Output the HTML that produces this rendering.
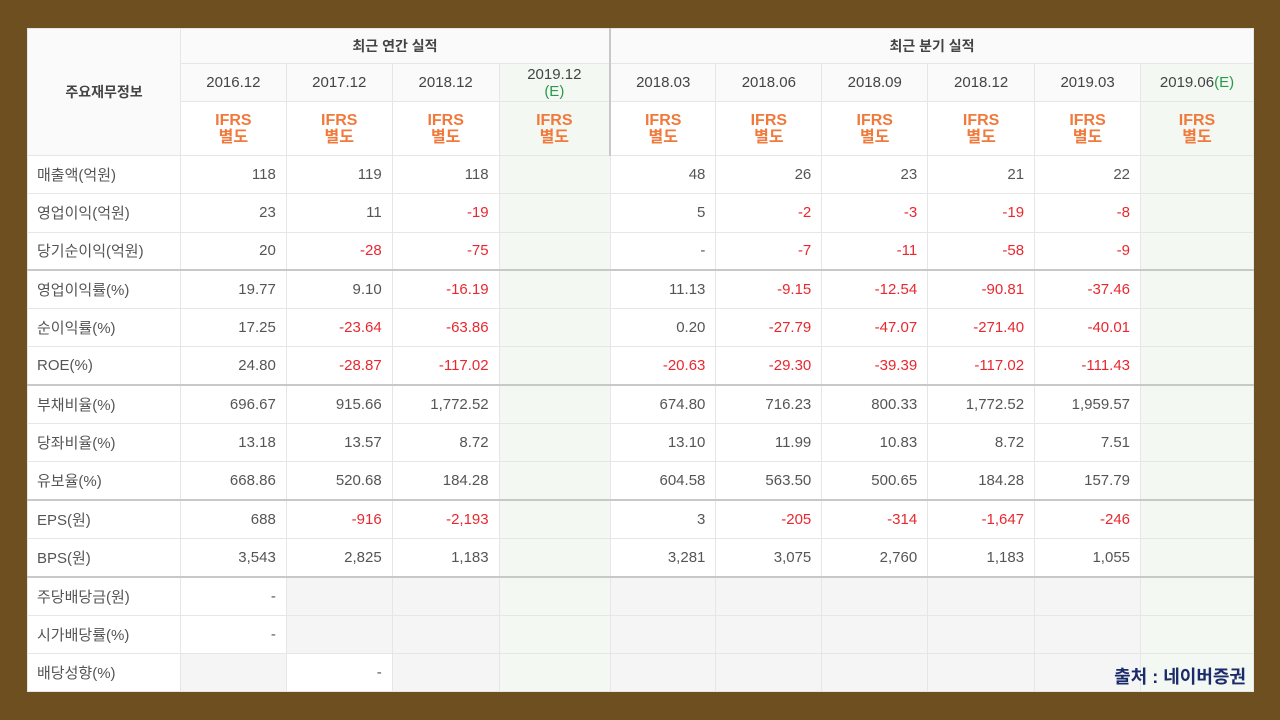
<!DOCTYPE html>
<html><head><meta charset="utf-8"><style>
html,body{margin:0;padding:0}
body{width:1280px;height:720px;background:#6e5020;position:relative;overflow:hidden;font-family:"Liberation Sans","Noto Sans CJK KR",sans-serif}
#w{position:absolute;left:27px;top:28px;width:1227px;height:664px;background:#fff;overflow:hidden}
table{border-collapse:collapse;table-layout:fixed;position:absolute;left:0;top:0}
td{border:1px solid #e6e6e6;padding:0 10px 0 0;font-size:15px;color:#555;text-align:right;white-space:nowrap;overflow:hidden;box-sizing:border-box}
td.l{text-align:left;padding:0 0 0 9px;background:#fff;color:#555}
tr.d td{height:38.3px}
.h td{text-align:center;padding:0;background:#fafafa;color:#444}
.h1 td{height:35px;font-weight:bold;font-size:14px}
.h2 td{height:38px;font-size:15px}
.h3 td{height:54px;color:#f07a3c;font-weight:bold;font-size:16px;line-height:17px;background:#fff}
td.e{background:#f3f8f3}
.h td.e{background:#f3f8f3}
.r{color:#e8282f}
.tk td{border-top:2px solid #c8c8c8}
.g{background:#f5f5f5}
.ge{color:#2a9a4a}
#src{position:absolute;right:8px;bottom:3px;font-weight:bold;color:#1a2a6a;font-size:18px}
</style></head><body><div id="w">
<table>
<colgroup><col style="width:153px"><col style="width:106px"><col style="width:106px"><col style="width:107px"><col style="width:111px"><col style="width:106px"><col style="width:106px"><col style="width:106px"><col style="width:107px"><col style="width:106px"><col style="width:113px"></colgroup>
<tr class="h h1"><td rowspan="3" style="font-weight:bold;font-size:14px;background:#fafafa;color:#444">주요재무정보</td><td colspan="4" style="border-right:2px solid #c8c8c8">최근 연간 실적</td><td colspan="6">최근 분기 실적</td></tr>
<tr class="h h2"><td>2016.12</td><td>2017.12</td><td>2018.12</td><td class="e" style="line-height:17px;border-right:2px solid #c8c8c8">2019.12<br><span class="ge">(E)</span></td><td>2018.03</td><td>2018.06</td><td>2018.09</td><td>2018.12</td><td>2019.03</td><td class="e">2019.06<span class="ge">(E)</span></td></tr>
<tr class="h h3"><td>IFRS<br>별도</td><td>IFRS<br>별도</td><td>IFRS<br>별도</td><td class="e" style="border-right:2px solid #c8c8c8">IFRS<br>별도</td><td>IFRS<br>별도</td><td>IFRS<br>별도</td><td>IFRS<br>별도</td><td>IFRS<br>별도</td><td>IFRS<br>별도</td><td class="e">IFRS<br>별도</td></tr>
<tr class="d"><td class="l">매출액(억원)</td><td>118</td><td>119</td><td>118</td><td class="e"></td><td>48</td><td>26</td><td>23</td><td>21</td><td>22</td><td class="e"></td></tr>
<tr class="d"><td class="l">영업이익(억원)</td><td>23</td><td>11</td><td class="r">-19</td><td class="e"></td><td>5</td><td class="r">-2</td><td class="r">-3</td><td class="r">-19</td><td class="r">-8</td><td class="e"></td></tr>
<tr class="d"><td class="l">당기순이익(억원)</td><td>20</td><td class="r">-28</td><td class="r">-75</td><td class="e"></td><td>-</td><td class="r">-7</td><td class="r">-11</td><td class="r">-58</td><td class="r">-9</td><td class="e"></td></tr>
<tr class="d tk"><td class="l">영업이익률(%)</td><td>19.77</td><td>9.10</td><td class="r">-16.19</td><td class="e"></td><td>11.13</td><td class="r">-9.15</td><td class="r">-12.54</td><td class="r">-90.81</td><td class="r">-37.46</td><td class="e"></td></tr>
<tr class="d"><td class="l">순이익률(%)</td><td>17.25</td><td class="r">-23.64</td><td class="r">-63.86</td><td class="e"></td><td>0.20</td><td class="r">-27.79</td><td class="r">-47.07</td><td class="r">-271.40</td><td class="r">-40.01</td><td class="e"></td></tr>
<tr class="d"><td class="l">ROE(%)</td><td>24.80</td><td class="r">-28.87</td><td class="r">-117.02</td><td class="e"></td><td class="r">-20.63</td><td class="r">-29.30</td><td class="r">-39.39</td><td class="r">-117.02</td><td class="r">-111.43</td><td class="e"></td></tr>
<tr class="d tk"><td class="l">부채비율(%)</td><td>696.67</td><td>915.66</td><td>1,772.52</td><td class="e"></td><td>674.80</td><td>716.23</td><td>800.33</td><td>1,772.52</td><td>1,959.57</td><td class="e"></td></tr>
<tr class="d"><td class="l">당좌비율(%)</td><td>13.18</td><td>13.57</td><td>8.72</td><td class="e"></td><td>13.10</td><td>11.99</td><td>10.83</td><td>8.72</td><td>7.51</td><td class="e"></td></tr>
<tr class="d"><td class="l">유보율(%)</td><td>668.86</td><td>520.68</td><td>184.28</td><td class="e"></td><td>604.58</td><td>563.50</td><td>500.65</td><td>184.28</td><td>157.79</td><td class="e"></td></tr>
<tr class="d tk"><td class="l">EPS(원)</td><td>688</td><td class="r">-916</td><td class="r">-2,193</td><td class="e"></td><td>3</td><td class="r">-205</td><td class="r">-314</td><td class="r">-1,647</td><td class="r">-246</td><td class="e"></td></tr>
<tr class="d"><td class="l">BPS(원)</td><td>3,543</td><td>2,825</td><td>1,183</td><td class="e"></td><td>3,281</td><td>3,075</td><td>2,760</td><td>1,183</td><td>1,055</td><td class="e"></td></tr>
<tr class="d tk"><td class="l">주당배당금(원)</td><td>-</td><td class="g"></td><td class="g"></td><td class="e"></td><td class="g"></td><td class="g"></td><td class="g"></td><td class="g"></td><td class="g"></td><td class="e"></td></tr>
<tr class="d"><td class="l">시가배당률(%)</td><td>-</td><td class="g"></td><td class="g"></td><td class="e"></td><td class="g"></td><td class="g"></td><td class="g"></td><td class="g"></td><td class="g"></td><td class="e"></td></tr>
<tr class="d"><td class="l">배당성향(%)</td><td class="g"></td><td>-</td><td class="g"></td><td class="e"></td><td class="g"></td><td class="g"></td><td class="g"></td><td class="g"></td><td class="g"></td><td class="e"></td></tr>
</table>
<div id="src">출처 : 네이버증권</div>
</div></body></html>
